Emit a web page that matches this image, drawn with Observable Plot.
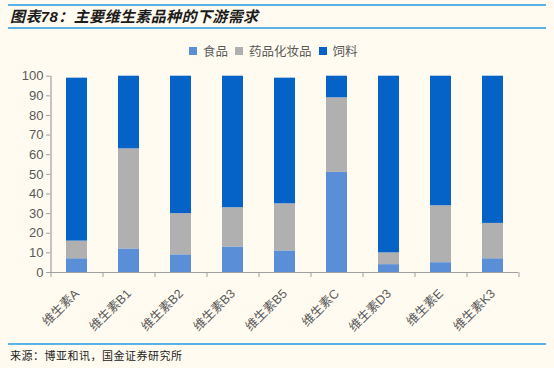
<!DOCTYPE html>
<html><head><meta charset="utf-8">
<script src="https://cdn.jsdelivr.net/npm/d3@7"></script>
<script src="https://cdn.jsdelivr.net/npm/@observablehq/plot@0.6"></script>
<style>
body{margin:0;background:#FFFBF0;}
#wrap{position:relative;width:554px;height:368px;background:#FFFBF0;overflow:hidden;font-family:"Liberation Sans","Noto Sans CJK SC",sans-serif;}
.hline{position:absolute;left:8px;width:538px;height:1.5px;background:#5AB2E6;}
#title{position:absolute;left:10px;top:5px;font-size:15px;font-weight:bold;font-style:italic;color:#1c1c1c;letter-spacing:0.4px;font-family:"Liberation Sans","Noto Sans CJK SC",sans-serif;}
#legend{position:absolute;left:189px;top:41px;display:flex;align-items:center;font-size:12.5px;color:#595959;}
#legend .item{display:flex;align-items:center;margin-right:7px;}
#legend .sw{width:8px;height:8px;margin-right:6px;}
#chart{position:absolute;left:0;top:58px;}
#source{position:absolute;left:10px;top:347px;font-size:11px;color:#1c1c1c;font-family:"Noto Sans CJK SC",sans-serif;letter-spacing:0.5px;}
</style></head><body>
<div id="wrap">
<div class="hline" style="top:4px"></div>
<div id="title">图表78：主要维生素品种的下游需求</div>
<div class="hline" style="top:27px"></div>
<div id="legend"></div>
<div id="chart"></div>
<div class="hline" style="top:343px"></div>
<div id="source">来源：博亚和讯，国金证券研究所</div>
</div>
<script>
const categories = ["维生素A","维生素B1","维生素B2","维生素B3","维生素B5","维生素C","维生素D3","维生素E","维生素K3"];
const series = ["食品","药品化妆品","饲料"];
const food   = [7, 12, 9, 13, 11, 51, 4, 5, 7];
const pharma = [9, 51, 21, 20, 24, 38, 6, 29, 18];
const feed   = [83, 37, 70, 67, 64, 11, 90, 66, 75];
const colors = ["#5A8ED6", "#B0B0B0", "#0563C8"];
const yTicks = [0,10,20,30,40,50,60,70,80,90,100];

const values = [food, pharma, feed];
const rows = [];
series.forEach((s, si) => categories.forEach((c, ci) => rows.push({cat: c, series: s, value: values[si][ci]})));

// legend
const lg = document.getElementById("legend");
series.forEach((s, i) => {
  const it = document.createElement("div"); it.className = "item";
  const sw = document.createElement("div"); sw.className = "sw"; sw.style.background = colors[i];
  const t = document.createElement("span"); t.textContent = s;
  it.appendChild(sw); it.appendChild(t); lg.appendChild(it);
});

const W = 554, ML = 50, MR = 36, MT = 17.7, MB = 70, H = 284;
const step = (W - ML - MR) / categories.length;
const axisColor = "#A0A0A0";
const labelColor = "#595959";

const chart = Plot.plot({
  width: W, height: H,
  marginLeft: ML, marginRight: MR, marginTop: MT, marginBottom: MB,
  style: {background: "transparent", fontFamily: "'Liberation Sans','Noto Sans CJK SC',sans-serif"},
  x: {type: "band", domain: categories, paddingInner: 0.6, paddingOuter: 0.3, align: 0.5},
  y: {domain: [0, 100]},
  color: {domain: series, range: colors},
  marks: [
    Plot.barY(rows, {x: "cat", y: "value", fill: "series", order: series}),
    Plot.ruleY([0], {stroke: axisColor, strokeWidth: 1.2}),
    Plot.ruleX([categories[0]], {y1: 0, y2: 100, dx: -step/2, stroke: axisColor, strokeWidth: 1.2}),
    Plot.ruleX(categories, {x: d => d, y1: 0, y2: 0, insetBottom: -5, dx: -step/2, stroke: axisColor}),
    Plot.ruleX([categories[categories.length-1]], {y1: 0, y2: 0, insetBottom: -5, dx: step/2, stroke: axisColor}),
    Plot.axisY({ticks: yTicks, tickSize: 4, tickPadding: 3, stroke: axisColor, fill: labelColor, fontSize: 13, label: null}),
    Plot.axisX({tickSize: 0, tickPadding: 19, tickRotate: -45, fill: labelColor, fontSize: 12.5, label: null, style: {letterSpacing: "0.8px"}})
  ]
});
document.getElementById("chart").appendChild(chart);
</script>
</body></html>
